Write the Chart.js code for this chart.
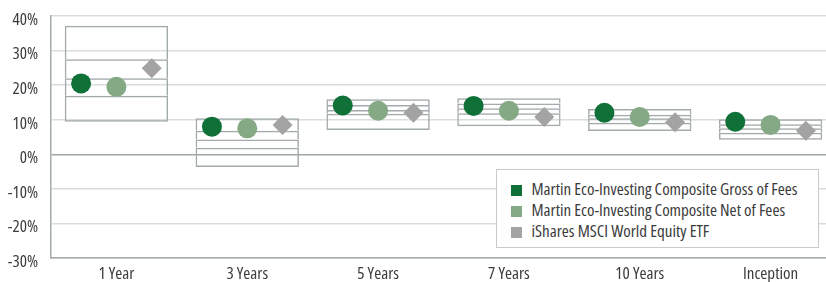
<!DOCTYPE html>
<html><head><meta charset="utf-8">
<script src="https://cdn.jsdelivr.net/npm/chart.js@4.4.0/dist/chart.umd.min.js"></script>
<style>
html,body{margin:0;padding:0;overflow:hidden;background:#fff;width:826px;height:282px}
#wrap{position:absolute;left:0;top:0;width:836px;height:282px}
#c{width:836px;height:282px}
#legend{position:absolute;left:496px;top:169px;width:323px;height:79px;box-sizing:border-box;border:1.5px solid #c6cbcb;background:#fff;padding:7.5px 0 0 13.5px;font-family:'Open Sans',sans-serif;font-stretch:77%;font-size:17px;color:#3b3b3b}
.item{height:21px;line-height:21px;white-space:nowrap}
.sw{display:inline-block;width:11px;height:11px;margin-right:10px;vertical-align:-1px}
</style></head>
<body>
<div id="wrap"><canvas id="c" width="836" height="282"></canvas></div>
<div id="legend"></div>
<script>
const categories = ['1 Year','3 Years','5 Years','7 Years','10 Years','Inception'];
const rangeTop    = [37.2, 10.4, 15.9, 16.2, 13.1, 10.1];
const rangeUpper  = [27.5, 6.8, 14.25, 14.7, 11.4, 8.7];
const rangeMid    = [22.0, 4.3, 12.8, 13.3, 10.4, 7.5];
const rangeLower  = [16.9, 1.9, 11.75, 11.85, 9.1, 6.25];
const rangeBottom = [9.4, -3.7, 7.0, 8.1, 6.7, 4.2];
const grossOfFees = [20.5, 8.0, 14.1, 14.0, 12.0, 9.4];
const netOfFees   = [19.5, 7.5, 12.6, 12.6, 10.8, 8.5];
const etfReturns  = [24.9, 8.5, 12.0, 10.8, 9.25, 6.8];
const yTicks = [-30, -20, -10, 0, 10, 20, 30, 40];
const seriesNames = ['Martin Eco-Investing Composite Gross of Fees','Martin Eco-Investing Composite Net of Fees','iShares MSCI World Equity ETF'];

const FONT = "'Open Sans',sans-serif";
const TEXT = '#3b3b3b';
const BOX = '#a3aaac';
const COLORS = ['#0f7038', '#86a985', '#a3a3a3'];
const OFFSET = 0.27;

function seg(lo, hi){ return categories.map((c,i)=>[lo[i], hi[i]]); }
function pts(arr, off){ return arr.map((v,i)=>({x:i+off, y:v})); }
function boxDs(lo, hi, skip){
  return {type:'bar', data:seg(lo,hi), xAxisID:'x', yAxisID:'y', grouped:false, order:2,
    barPercentage:0.79, categoryPercentage:1, backgroundColor:'rgba(0,0,0,0)',
    borderColor:BOX, borderWidth:1.5, borderSkipped:skip};
}
function ptDs(arr, off, color, style, label){
  return {type:'scatter', label, data:pts(arr,off), xAxisID:'x2', yAxisID:'y', order:0,
    pointStyle:style, pointRadius:10, pointHoverRadius:10, pointBorderWidth:0,
    backgroundColor:color, borderColor:color, clip:false};
}

new Chart(document.getElementById('c'), {
  type:'bar',
  data:{
    labels:categories,
    datasets:[
      ptDs(grossOfFees, -OFFSET, COLORS[0], 'circle', seriesNames[0]),
      ptDs(netOfFees, 0, COLORS[1], 'circle', seriesNames[1]),
      ptDs(etfReturns, OFFSET, COLORS[2], 'rectRot', seriesNames[2]),
      boxDs(rangeBottom, rangeLower, false),
      boxDs(rangeLower, rangeMid, 'bottom'),
      boxDs(rangeMid, rangeUpper, 'bottom'),
      boxDs(rangeUpper, rangeTop, 'bottom')
    ]
  },
  options:{
    responsive:false, animation:false,
    layout:{autoPadding:false, padding:{top:16,right:0,left:0,bottom:0}},
    plugins:{legend:{display:false}, tooltip:{enabled:false}},
    scales:{
      x:{type:'category', offset:true, grid:{display:false, drawTicks:false},
        border:{display:true,color:BOX,width:1.5},
        ticks:{color:TEXT,font:{family:FONT,size:17,weight:'condensed'},padding:6,maxRotation:0,autoSkip:false},
        afterFit(s){ s.height = 24; }},
      x2:{type:'linear', display:false, offset:false, min:-0.5, max:5.5},
      y:{type:'linear', min:-30, max:40,
        afterBuildTicks(s){ s.ticks = yTicks.map(v=>({value:v})); },
        ticks:{callback:v=>v+'%', padding:4, labelOffset:4, color:TEXT, font:{family:FONT,size:17,weight:'condensed'}},
        grid:{color:c=>(c.tick && c.tick.value===0)?'#9ea6a6':'#d9dddd', lineWidth:1.5,
          drawTicks:true, tickLength:9, tickColor:'rgba(0,0,0,0)'},
        border:{color:BOX,width:1.5},
        afterFit(s){ s.width = 51; }}
    }
  }
});

const lg = document.getElementById('legend');
seriesNames.forEach((n,i)=>{
  const d = document.createElement('div'); d.className='item';
  const s = document.createElement('span'); s.className='sw'; s.style.background=COLORS[i];
  d.appendChild(s); d.appendChild(document.createTextNode(n)); lg.appendChild(d);
});
</script>
</body></html>
